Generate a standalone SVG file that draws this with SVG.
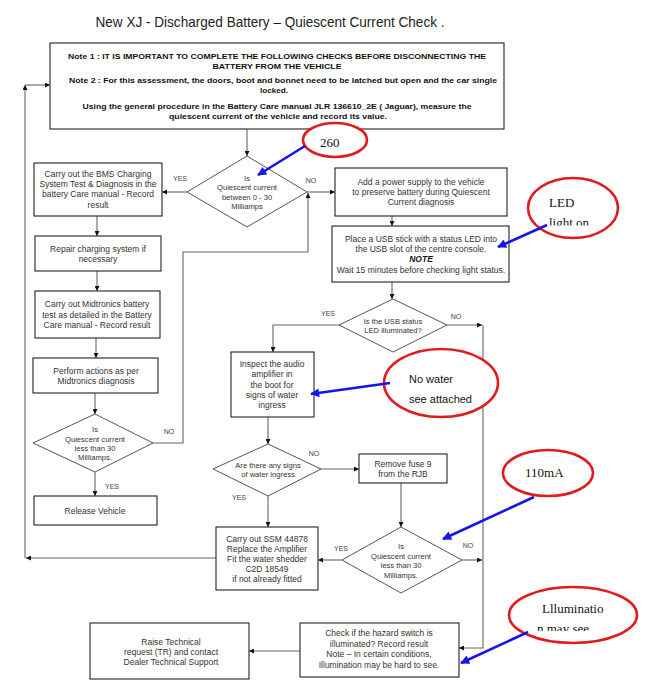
<svg xmlns="http://www.w3.org/2000/svg" width="651" height="692" viewBox="0 0 651 692">
<style>
text{font-family:"Liberation Sans",Arial,sans-serif;fill:#333;text-anchor:middle}
.t{font-size:8.5px}
.d{font-size:7.6px}
.h{font-size:8px;font-weight:bold;fill:#111}
.l{font-size:7px;fill:#444}
.box{fill:#fff;stroke:#222;stroke-width:1.1}
.dia{fill:#fff;stroke:#555;stroke-width:1}
.c{fill:none;stroke:#666;stroke-width:1.1}
.ell{fill:#fff;stroke:#e01b1b;stroke-width:2.6}
.ba{stroke:#1515e6;stroke-width:2.6;fill:none}
.an{font-family:"Liberation Serif","Times New Roman",serif;font-size:13px;fill:#111;text-anchor:start}
.as{font-size:11px;fill:#111;text-anchor:start}
</style>
<defs>
<marker id="ah" viewBox="0 0 10 10" refX="10" refY="5" markerWidth="5" markerHeight="5" markerUnits="userSpaceOnUse" orient="auto"><path d="M0,0L10,5L0,10z" fill="#111"/></marker>
<marker id="bh" viewBox="0 0 10 10" refX="9" refY="5" markerWidth="11" markerHeight="9" markerUnits="userSpaceOnUse" orient="auto"><path d="M0,0L10,5L0,10z" fill="#1515e6"/></marker>
<clipPath id="clipLed"><rect x="540" y="200" width="80" height="25.5"/></clipPath>
<clipPath id="clipIll"><rect x="530" y="600" width="90" height="31"/></clipPath>
</defs>
<rect width="651" height="692" fill="#fff"/>
<text x="270" y="27" style="font-size:14px;fill:#222" textLength="349" lengthAdjust="spacingAndGlyphs">New XJ -  Discharged Battery – Quiescent Current Check .</text>

<g id="connectors">
<path class="c" d="M247,129V156" marker-end="url(#ah)"/>
<path class="c" d="M187,192H162" marker-end="url(#ah)"/>
<path class="c" d="M307,192H335" marker-end="url(#ah)"/>
<path class="c" d="M97,216V236" marker-end="url(#ah)"/>
<path class="c" d="M97,271V291" marker-end="url(#ah)"/>
<path class="c" d="M96,338V358" marker-end="url(#ah)"/>
<path class="c" d="M95,393V414" marker-end="url(#ah)"/>
<path class="c" d="M95,472V496" marker-end="url(#ah)"/>
<path class="c" d="M153,443H183V252H308V193" marker-end="url(#ah)"/>
<path class="c" d="M392,216V226" marker-end="url(#ah)"/>
<path class="c" d="M392,282V299" marker-end="url(#ah)"/>
<path class="c" d="M339,325H273V352" marker-end="url(#ah)"/>
<path class="c" d="M447,325H482" marker-end="url(#ah)"/>
<path class="c" d="M483,325V648H459" marker-end="url(#ah)"/>
<path class="c" d="M268,417V444" marker-end="url(#ah)"/>
<path class="c" d="M321,469H359" marker-end="url(#ah)"/>
<path class="c" d="M268,496V527" marker-end="url(#ah)"/>
<path class="c" d="M401,483V527" marker-end="url(#ah)"/>
<path class="c" d="M342,560H318" marker-end="url(#ah)"/>
<path class="c" d="M462,560H482" marker-end="url(#ah)"/>
<path class="c" d="M216,558H26" marker-end="url(#ah)"/>
<path class="c" d="M25,558V85" marker-end="url(#ah)"/>
<path class="c" d="M25,85H50" marker-end="url(#ah)"/>
<path class="c" d="M300,651H249" marker-end="url(#ah)"/>
<text class="l" x="180" y="181">YES</text>
<text class="l" x="311" y="183">NO</text>
<text class="l" x="169" y="434">NO</text>
<text class="l" x="112" y="489">YES</text>
<text class="l" x="328" y="316">YES</text>
<text class="l" x="456" y="319">NO</text>
<text class="l" x="314" y="456">NO</text>
<text class="l" x="239" y="500">YES</text>
<text class="l" x="341" y="551">YES</text>
<text class="l" x="468" y="548">NO</text>
</g>

<g id="start">
<rect class="box" x="50" y="43" width="454" height="86"/>
<text class="h" x="277" y="59" textLength="418" lengthAdjust="spacingAndGlyphs">Note 1 : IT IS IMPORTANT TO COMPLETE THE FOLLOWING CHECKS BEFORE DISCONNECTING THE</text>
<text class="h" x="277" y="69" textLength="129" lengthAdjust="spacingAndGlyphs">BATTERY FROM THE VEHICLE</text>
<text class="h" x="283" y="83" textLength="428" lengthAdjust="spacingAndGlyphs">Note 2 : For this assessment, the doors, boot and bonnet need to be latched but open and the car single</text>
<text class="h" x="274" y="93" textLength="28" lengthAdjust="spacingAndGlyphs">locked.</text>
<text class="h" x="277" y="109" textLength="389" lengthAdjust="spacingAndGlyphs">Using the general procedure in the Battery Care manual JLR 136610_2E ( Jaguar), measure the</text>
<text class="h" x="278" y="119" textLength="218" lengthAdjust="spacingAndGlyphs">quiescent current of  the vehicle and record its value.</text>
</g>

<g id="d1">
<polygon class="dia" points="247,156 307,192 247,227 187,192"/>
<text class="d" x="247" y="181">Is</text>
<text class="d" x="247" y="190">Quiescent current</text>
<text class="d" x="247" y="200">between 0 - 30</text>
<text class="d" x="247" y="209">Milliamps</text>
</g>
<g id="bms">
<rect class="box" x="34" y="163" width="128" height="53"/>
<text class="t" x="98" y="177">Carry out  the BMS Charging</text>
<text class="t" x="98" y="187">System Test &amp; Diagnosis in the</text>
<text class="t" x="98" y="197">battery Care manual - Record</text>
<text class="t" x="98" y="208">result</text>
</g>
<g id="repair">
<rect class="box" x="35" y="236" width="126" height="35"/>
<text class="t" x="98" y="252">Repair charging system if</text>
<text class="t" x="98" y="262">necessary</text>
</g>
<g id="midtronics">
<rect class="box" x="35" y="291" width="125" height="47"/>
<text class="t" x="97" y="307">Carry  out Midtronics battery</text>
<text class="t" x="97" y="318">test as detailed in the Battery</text>
<text class="t" x="97" y="328">Care manual  - Record result</text>
</g>
<g id="perform">
<rect class="box" x="33" y="358" width="125" height="35"/>
<text class="t" x="96" y="374">Perform actions  as per</text>
<text class="t" x="96" y="384">Midtronics diagnosis</text>
</g>
<g id="d2">
<polygon class="dia" points="95,414 153,443 95,472 33,443"/>
<text class="d" x="95" y="432">Is</text>
<text class="d" x="95" y="442">Quiescent current</text>
<text class="d" x="95" y="451">less than 30</text>
<text class="d" x="95" y="460">Milliamps.</text>
</g>
<g id="release">
<rect class="box" x="34" y="496" width="123" height="29"/>
<text class="t" x="95" y="514">Release Vehicle</text>
</g>
<g id="add">
<rect class="box" x="335" y="168" width="172" height="48"/>
<text class="t" x="421" y="185">Add a power supply to the vehicle</text>
<text class="t" x="421" y="195">to preserve battery during Quiescent</text>
<text class="t" x="421" y="205">Current diagnosis</text>
</g>
<g id="usb">
<rect class="box" x="332" y="226" width="177" height="56"/>
<text class="t" x="421" y="242">Place a USB stick with a status LED into</text>
<text class="t" x="421" y="252">the USB slot of the centre console.</text>
<text class="t" x="421" y="262" style="font-weight:bold;font-style:italic;fill:#111">NOTE</text>
<text class="t" x="421" y="273">Wait 15 minutes before checking light status.</text>
</g>
<g id="dusb">
<polygon class="dia" points="393,299 447,325 393,352 339,325"/>
<text class="d" x="393" y="324">Is the USB status</text>
<text class="d" x="393" y="333">LED illuminated?</text>
</g>
<g id="inspect">
<rect class="box" x="231" y="352" width="83" height="65"/>
<text class="t" x="272" y="367">Inspect the audio</text>
<text class="t" x="272" y="377">amplifier in</text>
<text class="t" x="272" y="388">the boot for</text>
<text class="t" x="272" y="398">signs of water</text>
<text class="t" x="272" y="408">ingress</text>
</g>
<g id="d3">
<polygon class="dia" points="268,444 321,469 268,496 213,469"/>
<text class="d" x="268" y="468">Are there any signs</text>
<text class="d" x="268" y="477">of water  ingress</text>
</g>
<g id="fuse">
<rect class="box" x="359" y="454" width="88" height="29"/>
<text class="t" x="403" y="467">Remove fuse 9</text>
<text class="t" x="403" y="477">from the RJB</text>
</g>
<g id="ssm">
<rect class="box" x="216" y="527" width="102" height="63"/>
<text class="t" x="267" y="542">Carry out SSM 44878</text>
<text class="t" x="267" y="552">Replace the Amplifier</text>
<text class="t" x="267" y="562">Fit the water shedder</text>
<text class="t" x="267" y="572">C2D 18549</text>
<text class="t" x="267" y="582">if not already fitted</text>
</g>
<g id="d4">
<polygon class="dia" points="401,527 462,560 401,593 342,560"/>
<text class="d" x="401" y="549">Is</text>
<text class="d" x="401" y="559">Quiescent current</text>
<text class="d" x="401" y="568">less than 30</text>
<text class="d" x="401" y="578">Milliamps.</text>
</g>
<g id="raise">
<rect class="box" x="90" y="623" width="159" height="56"/>
<text class="t" x="171" y="645">Raise Technical</text>
<text class="t" x="171" y="655">request (TR) and  contact</text>
<text class="t" x="171" y="665">Dealer Technical Support</text>
</g>
<g id="hazard">
<rect class="box" x="300" y="623" width="159" height="54"/>
<text class="t" x="379" y="636">Check if the hazard switch is</text>
<text class="t" x="379" y="647">illuminated?  Record result</text>
<text class="t" x="379" y="657">Note – In  certain conditions,</text>
<text class="t" x="379" y="668">Illumination may be hard to see.</text>
</g>

<g id="annotations">
<ellipse class="ell" cx="335" cy="140" rx="32" ry="17"/>
<text class="an" x="320" y="147">260</text>
<path class="ba" d="M305,146L258,175" marker-end="url(#bh)"/>
<ellipse class="ell" cx="573" cy="208" rx="45" ry="30"/>
<text class="an" x="549" y="207">LED</text>
<text class="an" x="549" y="227" clip-path="url(#clipLed)">light on</text>
<path class="ba" d="M547,225L498,247" marker-end="url(#bh)"/>
<ellipse class="ell" cx="441" cy="383" rx="57" ry="34"/>
<text class="as" x="409" y="383">No water</text>
<text class="as" x="409" y="403">see attached</text>
<path class="ba" d="M390,383L311,394" marker-end="url(#bh)"/>
<ellipse class="ell" cx="548" cy="473" rx="45" ry="23"/>
<text class="an" x="525" y="477">110mA</text>
<path class="ba" d="M534,497L443,539" marker-end="url(#bh)"/>
<ellipse class="ell" cx="573" cy="615" rx="64" ry="28"/>
<text class="an" x="542" y="613">Llluminatio</text>
<text class="an" x="537" y="633" clip-path="url(#clipIll)">n may see</text>
<path class="ba" d="M528,632L461,663" marker-end="url(#bh)"/>
</g>
</svg>
